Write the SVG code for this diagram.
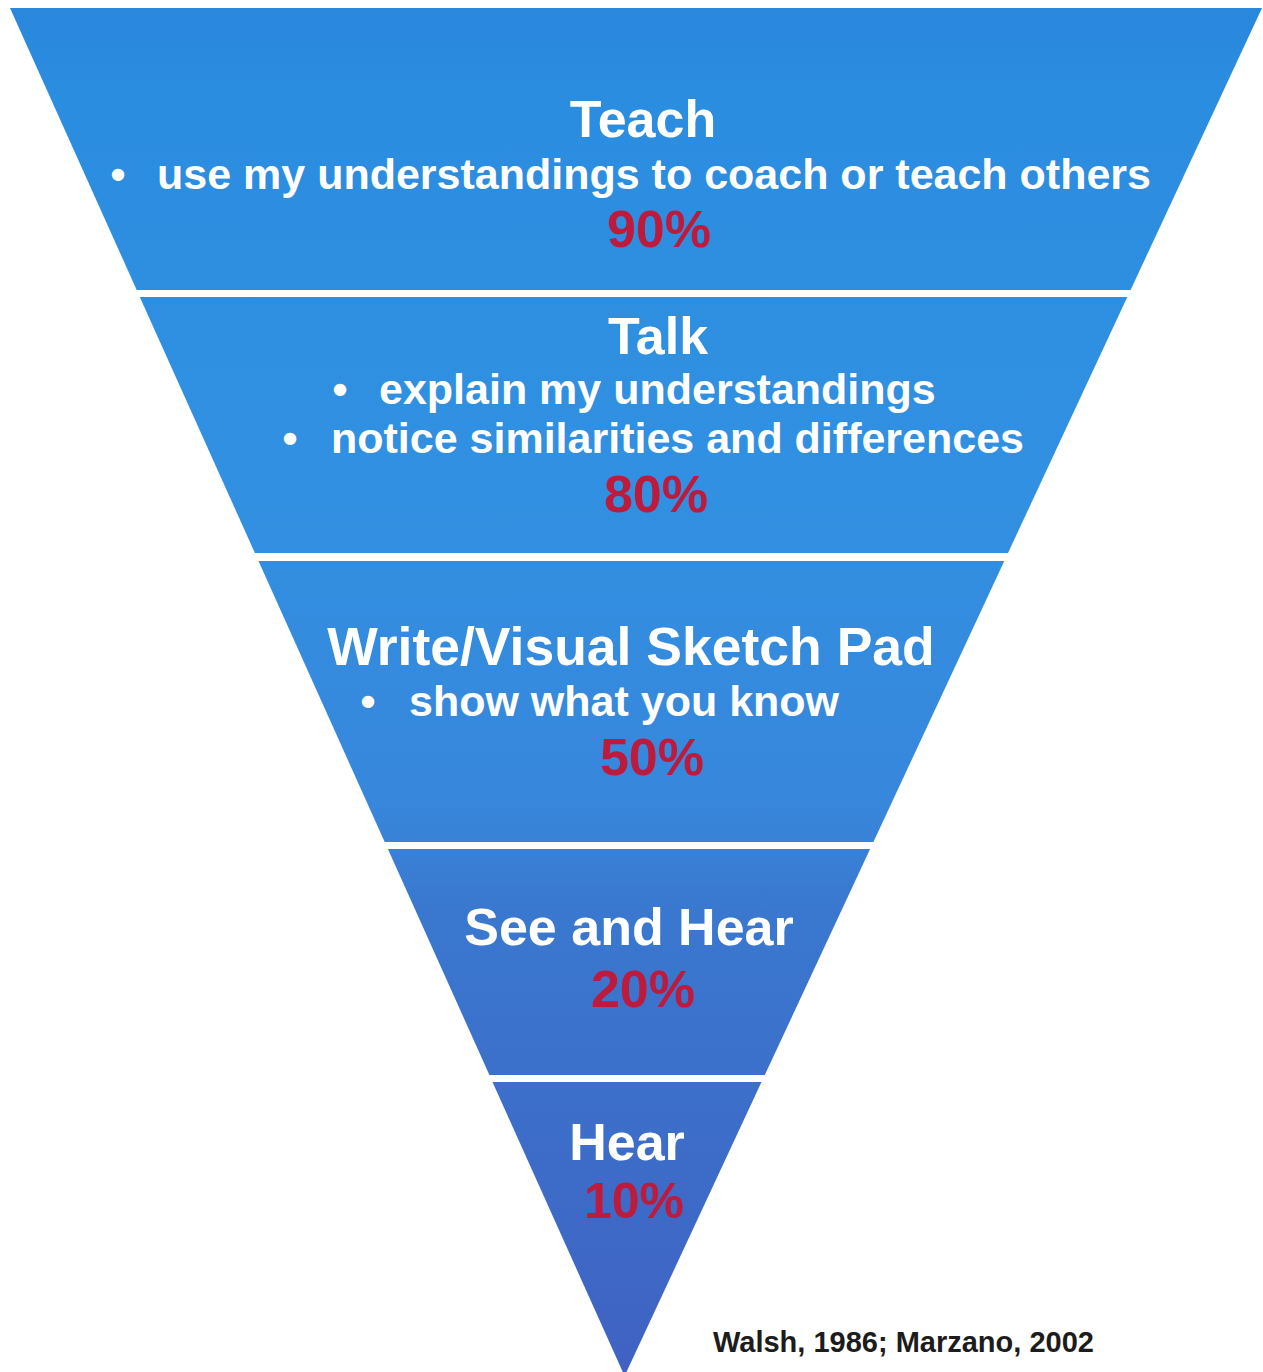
<svg xmlns="http://www.w3.org/2000/svg" width="1263" height="1372" viewBox="0 0 1263 1372">
  <defs>
    <linearGradient id="blueGrad" gradientUnits="userSpaceOnUse" x1="0" y1="8" x2="0" y2="1376">
      <stop offset="0" stop-color="#2987dc"/>
      <stop offset="0.06" stop-color="#2b8de0"/>
      <stop offset="0.35" stop-color="#3190e1"/>
      <stop offset="0.58" stop-color="#3787dc"/>
      <stop offset="0.66" stop-color="#3a78cf"/>
      <stop offset="0.8" stop-color="#3c6fca"/>
      <stop offset="1" stop-color="#4062c2"/>
    </linearGradient>
    <style>
      .band { fill: url(#blueGrad); }
      .head { font-family: "Liberation Sans", Arial, Helvetica, sans-serif; font-weight: bold; font-size: 52px; fill: #ffffff; text-anchor: middle; }
      .item { font-family: "Liberation Sans", Arial, Helvetica, sans-serif; font-weight: bold; font-size: 43px; fill: #ffffff; }
      .dot { font-family: "Liberation Sans", Arial, Helvetica, sans-serif; font-weight: bold; font-size: 43px; fill: #ffffff; text-anchor: middle; }
      .pct { font-family: "Liberation Sans", Arial, Helvetica, sans-serif; font-weight: bold; font-size: 52px; fill: #be1a3c; text-anchor: middle; }
      .cite { font-family: "Liberation Sans", Arial, Helvetica, sans-serif; font-weight: bold; font-size: 29px; fill: #1c1c1c; }
    </style>
  </defs>
  <rect x="0" y="0" width="1263" height="1372" fill="#ffffff"/>

  <g id="band-teach">
    <polygon class="band" points="10,8 1262,8 1130.6,290 136.7,290"/>
    <text class="head" x="643" y="137">Teach</text>
    <text class="dot" x="118" y="189">•</text>
    <text class="item" x="157" y="189">use my understandings to coach or teach others</text>
    <text class="pct" x="659" y="247">90%</text>
  </g>

  <g id="band-talk">
    <polygon class="band" points="139.8,297 1127.3,297 1008,553 254.9,553"/>
    <text class="head" x="658" y="354">Talk</text>
    <text class="dot" x="340" y="404">•</text>
    <text class="item" x="379" y="404">explain my understandings</text>
    <text class="dot" x="290" y="453">•</text>
    <text class="item" x="331" y="453">notice similarities and differences</text>
    <text class="pct" x="656" y="512">80%</text>
  </g>

  <g id="band-write">
    <polygon class="band" points="258.5,561 1004.3,561 873.4,842 384.7,842"/>
    <text class="head" x="631" y="665" style="font-size:53.5px">Write/Visual Sketch Pad</text>
    <text class="dot" x="368" y="716">•</text>
    <text class="item" x="409" y="716">show what you know</text>
    <text class="pct" x="652" y="775">50%</text>
  </g>

  <g id="band-seehear">
    <polygon class="band" points="387.9,849 870.1,849 764.8,1075 489.4,1075"/>
    <text class="head" x="629" y="945">See and Hear</text>
    <text class="pct" x="643" y="1007">20%</text>
  </g>

  <g id="band-hear">
    <polygon class="band" points="492.5,1082 761.5,1082 624.6,1376"/>
    <text class="head" x="627" y="1160">Hear</text>
    <text class="pct" x="634" y="1218" style="font-size:50px">10%</text>
  </g>

  <g id="connectors"></g>

  <g id="citation">
    <text class="cite" x="713" y="1352">Walsh, 1986; Marzano, 2002</text>
  </g>
</svg>
